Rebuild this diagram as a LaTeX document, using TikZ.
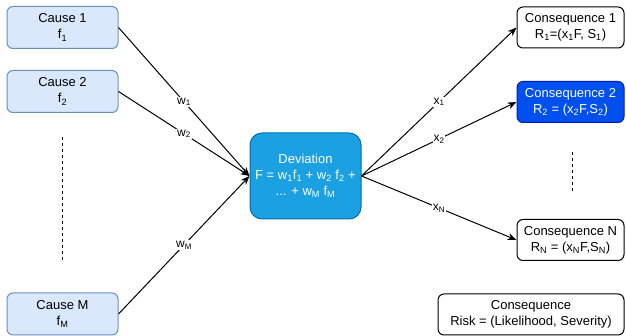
\documentclass[tikz,border=0pt]{standalone}
\usepackage{fontspec}
\setmainfont{Liberation Sans}
\usetikzlibrary{arrows.meta}
\definecolor{causefill}{HTML}{DAE8FC}
\definecolor{causeline}{HTML}{6C8EBF}
\definecolor{devfill}{HTML}{1BA1E2}
\definecolor{devline}{HTML}{006EAF}
\definecolor{c2fill}{HTML}{0050EF}
\definecolor{c2line}{HTML}{001DBC}
\tikzset{
  every node/.style={font=\fontsize{13}{16}\selectfont, align=center, inner sep=0pt},
  box/.style={draw, rounded corners=6pt, line width=1pt},
  causebox/.style={box, fill=causefill, draw=causeline, minimum width=111pt, minimum height=42pt},
  consbox/.style={box, fill=white, draw=black, minimum width=107pt, minimum height=41pt},
  devbox/.style={draw=devline, fill=devfill, text=white, rounded corners=12pt, line width=1pt, minimum width=111pt, minimum height=86pt},
  arr/.style={-{Stealth[length=9pt,width=7pt]}, line width=1pt},
  wlab/.style={fill=white, inner sep=1pt, font=\fontsize{12}{14}\selectfont},
  dots/.style={dash pattern=on 3pt off 3pt, line width=1pt}
}
\newcommand{\sbs}[1]{\textsubscript{#1}}
\begin{document}
\begin{tikzpicture}[x=1pt,y=-1pt]
\useasboundingbox (0,0) rectangle (626,336);
\node[causebox] (c1) at (62.5,27.5) {Cause 1\\f\sbs{1}};
\node[causebox] (c2) at (62.5,91.5) {Cause 2\\f\sbs{2}};
\node[causebox] (cm) at (62.5,314) {Cause M\\f\sbs{M}};
\node[devbox] (dev) at (305.5,176) {Deviation\\F = w\sbs{1}f\sbs{1} + w\sbs{2} f\sbs{2} +\\... + w\sbs{M} f\sbs{M}};
\node[consbox] (r1) at (570.5,27.5) {Consequence 1\\R\sbs{1}=(x\sbs{1}F, S\sbs{1})};
\node[consbox, fill=c2fill, draw=c2line, text=white] (r2) at (570.5,102) {Consequence 2\\R\sbs{2} = (x\sbs{2}F,S\sbs{2})};
\node[consbox] (rn) at (570.5,240) {Consequence N\\R\sbs{N} = (x\sbs{N}F,S\sbs{N})};
\node[consbox, minimum width=186pt] (leg) at (531,314.5) {Consequence\\Risk = (Likelihood, Severity)};
\draw[arr] (c1.east) -- node[wlab] {w\sbs{1}} (dev.west);
\draw[arr] (c2.east) -- node[wlab] {w\sbs{2}} (dev.west);
\draw[arr] (cm.east) -- node[wlab] {w\sbs{M}} (dev.west);
\draw[arr] (dev.east) -- node[wlab] {x\sbs{1}} (r1.west);
\draw[arr] (dev.east) -- node[wlab] {x\sbs{2}} (r2.west);
\draw[arr] (dev.east) -- node[wlab] {x\sbs{N}} (rn.west);
\coordinate (dl1) at (62,137);
\coordinate (dl2) at (62,262);
\coordinate (dr1) at (572,152);
\coordinate (dr2) at (572,193);
\draw[dots] (dl1) -- (dl2);
\draw[dots] (dr1) -- (dr2);
\end{tikzpicture}
\end{document}
